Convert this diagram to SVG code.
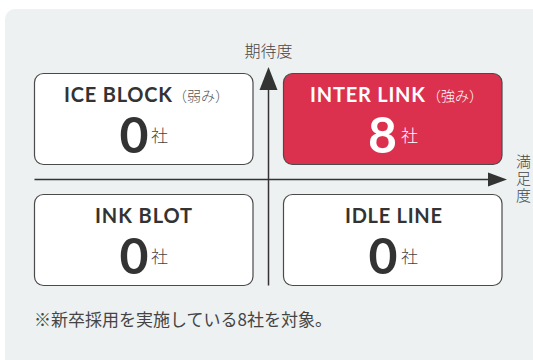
<svg xmlns="http://www.w3.org/2000/svg" width="533" height="360" viewBox="0 0 533 360">
  <style>
    .box { fill: #ffffff; stroke: #4a4a4a; stroke-width: 1.2; }
    .red { fill: #dc314e; }
    .title { font-family: "Lato", "Liberation Sans", sans-serif; font-weight: 700; font-size: 20px; fill: #333333; }
    .sub { font-family: "Noto Sans CJK JP", sans-serif; font-weight: 300; font-size: 14px; fill: #555555; }
    .num { font-family: "Lato", "Liberation Sans", sans-serif; font-weight: 700; font-size: 50px; fill: #333333; }
    .unit { font-family: "Noto Sans CJK JP", sans-serif; font-weight: 300; font-size: 17px; fill: #444444; }
    .white { fill: #ffffff; }
    .axislabel { font-family: "Noto Sans CJK JP", sans-serif; font-weight: 300; font-size: 16px; fill: #444444; }
    .vlabel { font-family: "Noto Sans CJK JP", sans-serif; font-weight: 300; font-size: 15px; fill: #444444; writing-mode: vertical-rl; letter-spacing: 2px; }
    .note { font-family: "Noto Sans CJK JP", sans-serif; font-size: 17px; fill: #444444; }
    .axis { stroke: #333333; stroke-width: 1.5; fill: none; }
    .head { fill: #333333; }
  </style>
  <rect x="5" y="9" width="560" height="380" rx="10" fill="#edf1f2"/>

  <g id="connectors">
    <line class="axis" x1="268.5" y1="88" x2="268.5" y2="285.5"/>
    <polygon class="head" points="268.5,67 277.5,90 259.5,90"/>
    <line class="axis" x1="34.5" y1="179.5" x2="490" y2="179.5"/>
    <polygon class="head" points="507,179.5 488,172.5 488,186.5"/>
  </g>

  <g id="label-kitaido">
    <text class="axislabel" x="268.5" y="57" text-anchor="middle">期待度</text>
  </g>
  <g id="label-manzokudo">
    <text class="vlabel" x="523.5" y="154">満足度</text>
  </g>

  <g id="ice-block">
    <rect class="box" x="34.5" y="73.5" width="218.5" height="91" rx="9"/>
    <text class="title" x="64" y="102" textLength="108" lengthAdjust="spacing">ICE BLOCK</text>
    <text class="sub" x="173" y="101">（弱み）</text>
    <text class="num" x="148.5" y="153" text-anchor="end">0</text>
    <text class="unit" x="151" y="142">社</text>
  </g>

  <g id="inter-link">
    <rect class="box red" x="283.5" y="73.5" width="218.5" height="91" rx="9"/>
    <text class="title white" x="310" y="102" textLength="115" lengthAdjust="spacing">INTER LINK</text>
    <text class="sub white" x="427" y="101">（強み）</text>
    <text class="num white" x="397" y="153" text-anchor="end">8</text>
    <text class="unit white" x="401" y="142">社</text>
  </g>

  <g id="ink-blot">
    <rect class="box" x="34.5" y="194.5" width="218.5" height="91" rx="9"/>
    <text class="title" x="95" y="223" textLength="97" lengthAdjust="spacing">INK BLOT</text>
    <text class="num" x="148.5" y="274" text-anchor="end">0</text>
    <text class="unit" x="151" y="263">社</text>
  </g>

  <g id="idle-line">
    <rect class="box" x="283.5" y="194.5" width="218.5" height="91" rx="9"/>
    <text class="title" x="345" y="223" textLength="97" lengthAdjust="spacing">IDLE LINE</text>
    <text class="num" x="397.5" y="274" text-anchor="end">0</text>
    <text class="unit" x="401" y="263">社</text>
  </g>

  <g id="footnote">
    <text class="note" x="34" y="325.5">※新卒採用を実施している8社を対象。</text>
  </g>
</svg>
